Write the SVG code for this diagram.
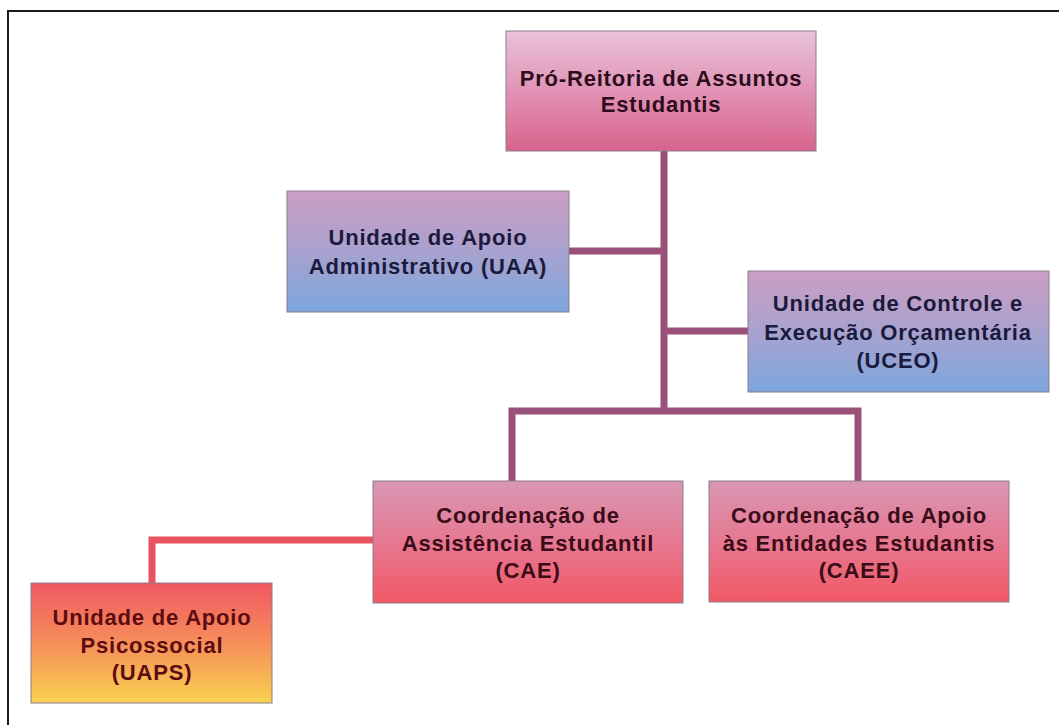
<svg xmlns="http://www.w3.org/2000/svg" width="1059" height="725" viewBox="0 0 1059 725">
<defs>
<linearGradient id="gTop" x1="0" y1="0" x2="0" y2="1"><stop offset="0" stop-color="#e9c3d9"/><stop offset="0.5" stop-color="#e193b5"/><stop offset="1" stop-color="#d8648c"/></linearGradient>
<linearGradient id="gBlue" x1="0" y1="0" x2="0" y2="1"><stop offset="0" stop-color="#cb9ec2"/><stop offset="0.5" stop-color="#a8a2cf"/><stop offset="1" stop-color="#7ca6dc"/></linearGradient>
<linearGradient id="gRed" x1="0" y1="0" x2="0" y2="1"><stop offset="0" stop-color="#d897b3"/><stop offset="0.5" stop-color="#e67891"/><stop offset="1" stop-color="#f25865"/></linearGradient>
<linearGradient id="gOrange" x1="0" y1="0" x2="0" y2="1"><stop offset="0" stop-color="#f05862"/><stop offset="0.5" stop-color="#f58e5a"/><stop offset="1" stop-color="#f9d250"/></linearGradient>
<style>
.box{stroke:#8c7c8c;stroke-width:1}
.t{font-family:"Liberation Sans",Arial,sans-serif;font-size:22px;font-weight:bold;text-anchor:middle;letter-spacing:0.8px}
.tp{fill:#2e0c1e}.tb{fill:#1c1a3c}.tr{fill:#3a0c18}.to{fill:#5c0c10}
.c{fill:none;stroke:#995179;stroke-width:7}
.cr{fill:none;stroke:#e8535f;stroke-width:7}
</style>
</defs>
<rect x="0" y="0" width="1059" height="725" fill="#ffffff"/>
<path d="M8,725 V11 H1059" fill="none" stroke="#1a1a1a" stroke-width="2"/>
<g id="connectors">
<path class="c" d="M664,151 V411"/>
<path class="c" d="M569,251 H664"/>
<path class="c" d="M664,331 H748"/>
<path class="c" d="M512,481 V411 H858 V481"/>
<path class="cr" d="M373,540 H152 V583"/>
</g>
<g id="pro-reitoria">
<rect class="box" x="506" y="31" width="310" height="120" fill="url(#gTop)"/>
<text class="t tp" x="661" y="86">Pró-Reitoria de Assuntos</text>
<text class="t tp" x="661" y="112">Estudantis</text>
</g>
<g id="uaa">
<rect class="box" x="287" y="191" width="282" height="121" fill="url(#gBlue)"/>
<text class="t tb" x="428" y="245">Unidade de Apoio</text>
<text class="t tb" x="428" y="274">Administrativo (UAA)</text>
</g>
<g id="uceo">
<rect class="box" x="748" y="271" width="301" height="121" fill="url(#gBlue)"/>
<text class="t tb" x="898" y="311">Unidade de Controle e</text>
<text class="t tb" x="898" y="340">Execução Orçamentária</text>
<text class="t tb" x="898" y="368">(UCEO)</text>
</g>
<g id="cae">
<rect class="box" x="373" y="481" width="310" height="122" fill="url(#gRed)"/>
<text class="t tr" x="528" y="523">Coordenação de</text>
<text class="t tr" x="528" y="551">Assistência Estudantil</text>
<text class="t tr" x="528" y="578">(CAE)</text>
</g>
<g id="caee">
<rect class="box" x="709" y="481" width="300" height="121" fill="url(#gRed)"/>
<text class="t tr" x="859" y="523">Coordenação de Apoio</text>
<text class="t tr" x="859" y="551">às Entidades Estudantis</text>
<text class="t tr" x="859" y="578">(CAEE)</text>
</g>
<g id="uaps">
<rect class="box" x="31" y="583" width="241" height="120" fill="url(#gOrange)"/>
<text class="t to" x="152" y="625">Unidade de Apoio</text>
<text class="t to" x="152" y="653">Psicossocial</text>
<text class="t to" x="152" y="680">(UAPS)</text>
</g>
</svg>
